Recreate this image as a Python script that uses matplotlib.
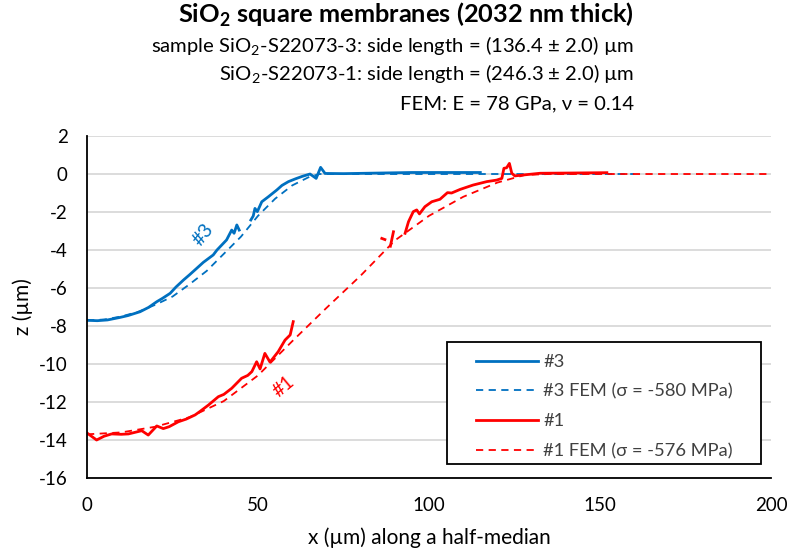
import numpy as np
import matplotlib.pyplot as plt
from matplotlib.patches import Rectangle

plt.rcParams['font.family'] = ['Lato', 'DejaVu Sans']
plt.rcParams['mathtext.fontset'] = 'custom'
plt.rcParams['mathtext.rm'] = 'Lato'
plt.rcParams['mathtext.bf'] = 'Lato:bold'
plt.rcParams['axes.unicode_minus'] = False

nan = np.nan

# sample #3, measured profile (gap where the scan dropped out)
x3 = [0, 3, 6, 9.6, 12, 15.5, 18, 20.4, 22, 24.3, 26, 28.2, 30, 32.1, 34, 36.9,
      38, 40.8, 42.3, 43, 43.8, 44.5, nan, 47.9, 48.6, 49.1, 49.8, 51.1, 53, 55.5,
      57, 58.9, 61, 63, 65.2, 67, 68.3, 69.6, 75, 85, 95, 105, 115]
z3 = [-7.7, -7.72, -7.68, -7.55, -7.45, -7.25, -7.02, -6.72, -6.55, -6.28, -5.95,
      -5.58, -5.3, -4.96, -4.65, -4.26, -4.0, -3.47, -2.95, -3.12, -2.68, -2.95, nan,
      -2.42, -2.21, -1.81, -1.98, -1.46, -1.2, -0.84, -0.6, -0.4, -0.25, -0.12, 0.0,
      -0.23, 0.35, 0.03, 0.02, 0.05, 0.08, 0.08, 0.08]

# sample #3, FEM (sigma = -580 MPa)
x3_fem = [0, 5, 10, 15, 20, 25, 30, 35, 40, 45, 50, 55, 60, 65, 68, 100, 160]
z3_fem = [-7.7, -7.66, -7.5, -7.25, -6.88, -6.45, -5.8, -5.1, -4.2, -3.3, -2.2,
          -1.3, -0.6, -0.15, 0.0, 0.0, 0.0]

# sample #1, measured profile
x1 = [0, 2.8, 5, 7.2, 10, 12.1, 16, 17.9, 20.4, 22.3, 24, 26.7, 29, 31.6, 33,
      35.5, 38.4, 40, 42.3, 45.2, 47, 48.2, 49.6, 50.6, 52, 53.5, 55.9, 57.9, 59.4,
      60.3, nan, 86.2, 87.1, nan, 88.7, 89.6, nan, 93, 94, 95.4, 96.4, 97.2, 98.8,
      100.8, 103.2, 105.4, 106.6, 109.1, 112.9, 116.9, 119.8, 121.3, 121.9, 122.7,
      123.5, 124.2, 125.1, 127.6, 132.5, 140, 152]
z1 = [-13.63, -14.0, -13.8, -13.68, -13.7, -13.68, -13.51, -13.74, -13.26, -13.4,
      -13.3, -13.04, -12.9, -12.68, -12.5, -12.16, -11.72, -11.6, -11.28, -10.75,
      -10.6, -10.4, -9.88, -10.26, -9.44, -9.9, -9.35, -8.74, -8.47, -7.77, nan,
      -3.39, -3.45, nan, -3.8, -3.04, nan, -3.12, -2.51, -1.98, -1.89, -2.1, -1.72,
      -1.46, -1.33, -0.98, -1.0, -0.81, -0.58, -0.4, -0.32, -0.23, 0.3, 0.33, 0.56,
      0.04, -0.1, -0.05, 0.04, 0.05, 0.07]

# sample #1, FEM (sigma = -576 MPa)
x1_fem = [0, 10, 20, 30, 40, 50, 60, 70, 80, 90, 100, 110, 120, 128, 135, 200]
z1_fem = [-13.7, -13.6, -13.3, -12.8, -11.95, -10.6, -8.8, -7.05, -5.35, -3.5,
          -2.2, -1.2, -0.45, -0.05, 0.0, 0.0]

blue = '#0070C0'
red = '#FF0000'

fig = plt.figure(figsize=(7.89, 5.5), dpi=100)
ax = fig.add_axes([0.1103, 0.1309, 0.8669, 0.6218])

ax.plot(x3, z3, color=blue, lw=2.0, label='#3')
ax.plot(x3_fem, z3_fem, color=blue, lw=1.3, ls=(0, (4, 3)), label='#3 FEM (σ = -580 MPa)')
ax.plot(x1, z1, color=red, lw=2.0, label='#1')
ax.plot(x1_fem, z1_fem, color=red, lw=1.3, ls=(0, (4, 3)), label='#1 FEM (σ = -576 MPa)')

ax.set_xlim(0, 200)
ax.set_ylim(-16, 2)
ax.set_xticks([0, 50, 100, 150, 200])
ax.set_yticks(range(-16, 3, 2))
ax.grid(axis='y', color='#D9D9D9', lw=1.3)
ax.set_axisbelow(True)
for s in ['top', 'right']:
    ax.spines[s].set_visible(False)
ax.spines['left'].set_linewidth(1.3)
ax.spines['bottom'].set_linewidth(1.3)
ax.tick_params(length=0, labelsize=13.5, pad=14)
ax.set_xlabel('x (µm) along a half-median', fontsize=15, labelpad=9)
ax.set_ylabel('z (µm)', fontsize=15, labelpad=4)

ax.text(34, -3.2, '#3', color=blue, fontsize=14, rotation=52, ha='center', va='center')
ax.text(57.5, -11.2, '#1', color=red, fontsize=14, rotation=40, ha='center', va='center')

# legend box drawn separately (wider side padding than matplotlib's frame)
ax.add_patch(Rectangle((0.5263, 0.0409), 0.459, 0.3567, transform=ax.transAxes,
                       facecolor='white', edgecolor='black', lw=1.3, zorder=4))
leg = ax.legend(loc='upper left', bbox_to_anchor=(0.568, 0.362), fontsize=13.2,
                frameon=False, handlelength=3.4, borderpad=0, borderaxespad=0,
                labelspacing=0.74, handletextpad=0.3)
leg.set_zorder(5)
for t in leg.get_texts():
    t.set_color('#404040')

xr = 634 / 789
fig.text(xr, 1 - 23 / 550, r'SiO$_\mathbf{2}$ square membranes (2032 nm thick)', ha='right',
         va='baseline', fontsize=18.3, fontweight='bold')
fig.text(xr, 1 - 53 / 550, r'sample SiO$_2$-S22073-3: side length = (136.4 ± 2.0) µm',
         ha='right', va='baseline', fontsize=14.6)
fig.text(xr, 1 - 81 / 550, r'SiO$_2$-S22073-1: side length = (246.3 ± 2.0) µm',
         ha='right', va='baseline', fontsize=14.6)
fig.text(xr, 1 - 109 / 550, 'FEM: E = 78 GPa, ν = 0.14', ha='right', va='baseline',
         fontsize=14.6)

fig.savefig('out.png', dpi=100)
